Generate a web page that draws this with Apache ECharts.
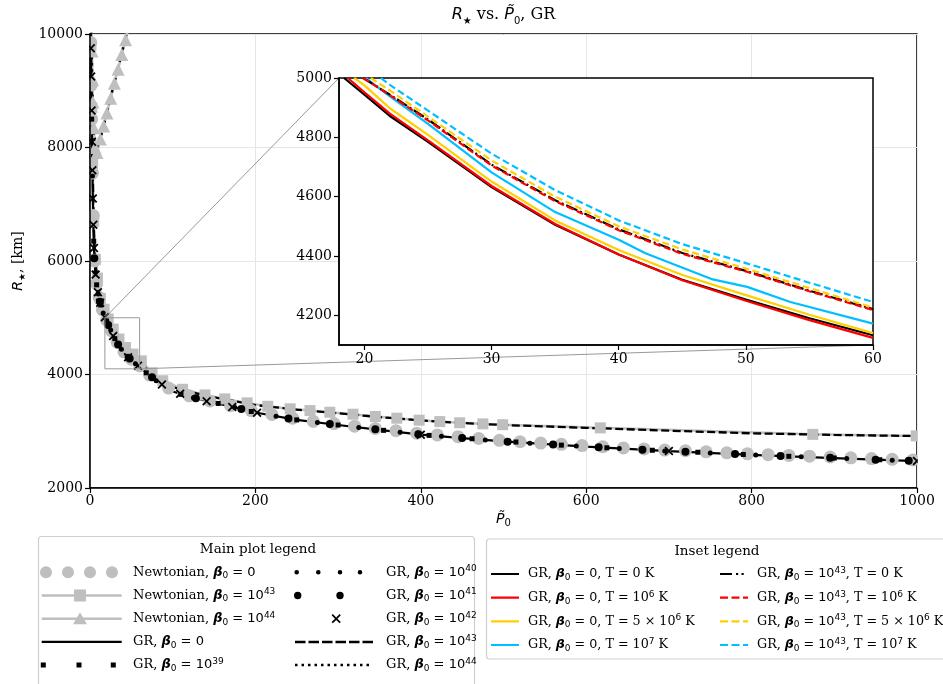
<!DOCTYPE html>
<html><head><meta charset="utf-8">
<script src="https://cdn.jsdelivr.net/npm/echarts@6/dist/echarts.min.js"></script>
<style>html,body{margin:0;padding:0;background:#fff}#c{width:943px;height:684px}</style>
</head><body><div id="c"></div><script>
// ---------------- DATA ----------------
// Main plot axes
const MAIN_X_RANGE = [0, 1000];
const MAIN_Y_RANGE = [2000, 10000];
// Inset axes and tick labels
const INSET_X_RANGE = [18, 60];
const INSET_Y_RANGE = [4100, 5000];
const INSET_X_TICKS = [20, 30, 40, 50, 60];
const INSET_Y_TICKS = [4200, 4400, 4600, 4800, 5000];
// zoom box in main plot (data coords)
const ZOOM_X = [18, 60];
const ZOOM_Y = [4100, 5000];

// GR, beta0 = 0 (solid black)
const GR0_P = [0.5, 0.8, 1.6, 2.5, 3.5, 4.2, 5.2, 6.5, 8, 10, 12, 14, 18.2, 22, 26, 30, 35, 40, 45, 50, 55, 60, 70, 80, 100, 125, 150, 175, 200, 250, 300, 350, 400, 450, 500, 600, 700, 800, 900, 1000];
const GR0_R = [10600, 10000, 9000, 8000, 7000, 6500, 6050, 5800, 5580, 5420, 5280, 5170, 5000, 4872, 4755, 4632, 4505, 4405, 4320, 4253, 4190, 4133, 4010, 3890, 3700, 3590, 3505, 3420, 3330, 3200, 3110, 3025, 2940, 2880, 2820, 2728, 2650, 2585, 2528, 2475];
// GR, beta0 = 1e43 (dashed)
const GR43_P = [0.7, 1.0, 1.9, 2.9, 4, 4.8, 6, 7.5, 9.5, 12, 15, 19.9, 22, 25, 30, 35, 40, 45, 50, 55, 60, 70, 80, 100, 125, 150, 175, 200, 250, 300, 350, 400, 450, 500, 600, 700, 800, 900, 1000];
const GR43_R = [10600, 10000, 9000, 8000, 7000, 6500, 6100, 5850, 5620, 5350, 5200, 5000, 4944, 4860, 4708, 4588, 4490, 4410, 4350, 4283, 4221, 4080, 3938, 3780, 3680, 3600, 3530, 3462, 3380, 3316, 3250, 3190, 3145, 3110, 3060, 3010, 2964, 2935, 2916];
// GR, beta0 = 1e44 (dotted)
const GR44_P = [1.2, 2, 3, 4.5, 6, 8, 12, 16, 20, 24, 28, 32, 36, 40, 44, 48];
const GR44_R = [10600, 9700, 8900, 8200, 7920, 7900, 8130, 8360, 8600, 8830, 9060, 9290, 9520, 9760, 9990, 10220];
// Newtonian, beta0 = 1e44 (grey triangles)
const N44_P = [2, 2.5, 3, 3.5, 4.5, 6, 8.5, 12.5, 16.5, 20.5, 25, 29.5, 34, 38.5, 43, 47];
const N44_R = [10300, 9700, 9200, 8800, 8350, 8000, 7910, 8150, 8380, 8610, 8870, 9130, 9380, 9640, 9900, 10130];
// Newtonian, beta0 = 1e43 (grey squares)
const N43_P = [1.2, 2.2, 3.2, 4.5, 6.5, 9, 12.5, 17, 22, 28, 35, 43, 52, 62, 75, 88, 112, 139, 163, 190, 215, 242, 266, 290, 318, 345, 371, 398, 423, 447, 475, 499, 617, 874, 999];
const N43_R = [9800, 8700, 7700, 6700, 6030, 5700, 5340, 5150, 4980, 4800, 4625, 4475, 4360, 4240, 4030, 3890, 3740, 3640, 3570, 3500, 3440, 3395, 3365, 3335, 3300, 3260, 3230, 3195, 3170, 3150, 3130, 3115, 3060, 2945, 2918];
// Newtonian, beta0 = 0 (grey circles)
const N0_P = [1, 1.5, 2, 3, 4, 5.5, 8, 11, 15, 20, 26, 33, 41, 50, 60, 72, 95, 120, 145, 170, 195, 220, 245, 270, 295, 320, 345, 370, 395, 420, 445, 470, 495, 520, 545, 570, 595, 620, 645, 670, 695, 720, 745, 770, 795, 820, 845, 870, 895, 920, 945, 970, 995];
const N0_R = [9850, 9100, 8500, 7550, 6800, 6000, 5600, 5360, 5140, 4960, 4770, 4565, 4400, 4270, 4150, 3990, 3760, 3625, 3535, 3450, 3365, 3295, 3230, 3175, 3135, 3090, 3050, 3010, 2965, 2935, 2905, 2873, 2840, 2815, 2792, 2770, 2747, 2727, 2707, 2688, 2669, 2656, 2638, 2620, 2603, 2588, 2574, 2560, 2546, 2532, 2518, 2506, 2493];
// GR beta0 = 1e39 (small squares)
const GR39_P = [2, 4.5, 8, 13, 20, 30, 45, 68, 110, 155, 195, 250, 300, 355, 410, 462, 515, 570, 625, 680, 735, 790, 845, 900, 955];
const GR39_R = [8500, 6350, 5580, 5225, 4944, 4632, 4320, 4030, 3650, 3490, 3348, 3200, 3110, 3016, 2927, 2868, 2810, 2755, 2708, 2665, 2630, 2590, 2558, 2528, 2498];
// GR beta0 = 1e40 (small dots)
const GR40_P = [3, 6.5, 10, 16, 25, 38, 55, 80, 125, 175, 225, 275, 325, 375, 425, 478, 532, 588, 640, 695, 750, 805, 860, 915, 970];
const GR40_R = [7500, 5800, 5420, 5085, 4785, 4445, 4190, 3890, 3590, 3420, 3265, 3155, 3068, 2983, 2910, 2846, 2790, 2739, 2697, 2654, 2618, 2582, 2551, 2520, 2491];
// GR beta0 = 1e41 (dots)
const GR41_P = [5.2, 12, 22, 34, 48, 75, 128, 183, 240, 290, 345, 397, 450, 505, 560, 615, 668, 720, 780, 835, 895, 950, 990];
const GR41_R = [6050, 5280, 4872, 4530, 4280, 3950, 3580, 3390, 3226, 3128, 3034, 2945, 2880, 2815, 2765, 2716, 2675, 2637, 2598, 2565, 2531, 2500, 2480];
// GR beta0 = 1e42 (x markers)
const GR42_P = [1.0, 1.4, 1.9, 2.4, 2.9, 3.4, 4.0, 4.8, 6.8, 9.6, 12.3, 18, 28, 46, 58, 87, 109, 141, 172, 202, 400, 700, 1000];
const GR42_R = [9750, 9250, 8650, 8100, 7600, 7100, 6640, 6230, 5760, 5450, 5265, 5010, 4680, 4305, 4155, 3825, 3660, 3530, 3428, 3325, 2940, 2650, 2475];

// Inset curves
const IN_B0_P = [18.4, 20, 22, 25, 30, 35, 40, 45, 50, 55, 60];
const IN_B0_R = [5000, 4944, 4872, 4785, 4632, 4505, 4405, 4320, 4253, 4190, 4133];
const IN_R0_P = [18.7, 20, 22, 25, 30, 35, 40, 45, 50, 55, 60];
const IN_R0_R = [5000, 4952, 4880, 4790, 4636, 4508, 4405, 4318, 4249, 4184, 4124];
const IN_Y0_P = [19.2, 20, 22, 25, 30, 35, 40, 45, 50, 55, 60];
const IN_Y0_R = [5000, 4975, 4898, 4808, 4651, 4520, 4420, 4336, 4268, 4202, 4140];
const IN_C0_P = [20.1, 22, 25, 30, 35, 40, 42.1, 47.4, 50.1, 53.5, 60];
const IN_C0_R = [5000, 4938, 4845, 4682, 4548, 4455, 4409, 4321, 4296, 4245, 4172];
const IN_B43_P = [19.9, 22, 25, 30, 35, 40, 45, 50, 55, 60];
const IN_B43_R = [5000, 4944, 4860, 4708, 4588, 4490, 4410, 4350, 4283, 4221];
const IN_R43_P = [19.9, 22, 25, 30, 35, 40, 45, 50, 55, 60];
const IN_R43_R = [5000, 4942, 4857, 4705, 4585, 4487, 4407, 4348, 4281, 4218];
const IN_Y43_P = [20.5, 22, 25, 30, 35, 40, 45, 50, 55, 60];
const IN_Y43_R = [5000, 4958, 4870, 4722, 4600, 4500, 4422, 4358, 4292, 4226];
const IN_C43_P = [21.3, 22, 25, 30, 35, 40, 45, 50, 55, 60];
const IN_C43_R = [5000, 4977, 4890, 4745, 4622, 4520, 4440, 4376, 4310, 4245];

// ---------------- NAMES / LABELS ----------------
const NAMES = {
  N0: 'Newtonian, β0 = 0', N43: 'Newtonian, β0 = 10^43', N44: 'Newtonian, β0 = 10^44',
  GR0: 'GR, β0 = 0', GR39: 'GR, β0 = 10^39', GR40: 'GR, β0 = 10^40', GR41: 'GR, β0 = 10^41',
  GR42: 'GR, β0 = 10^42', GR43: 'GR, β0 = 10^43', GR44: 'GR, β0 = 10^44',
  IB0: 'GR, β0 = 0, T = 0 K', IR0: 'GR, β0 = 0, T = 10^6 K', IY0: 'GR, β0 = 0, T = 5×10^6 K', IC0: 'GR, β0 = 0, T = 10^7 K',
  IB43: 'GR, β0 = 10^43, T = 0 K', IR43: 'GR, β0 = 10^43, T = 10^6 K', IY43: 'GR, β0 = 10^43, T = 5×10^6 K', IC43: 'GR, β0 = 10^43, T = 10^7 K'
};
function betaPart(exp) { return '{b|β}{sub|0}' + (exp ? '{m| = 10}{sup|' + exp + '}' : '{m| = 0}'); }
function tPart(t) {
  if (t === '0') return '{t|, T = 0 K}';
  if (t === '5e6') return '{t|, T = 5 × 10}{sup|6}{t| K}';
  return '{t|, T = 10}{sup|' + t + '}{t| K}';
}
const RICH_LABEL = {};
RICH_LABEL[NAMES.N0] = '{t|Newtonian, }' + betaPart(null);
RICH_LABEL[NAMES.N43] = '{t|Newtonian, }' + betaPart('43');
RICH_LABEL[NAMES.N44] = '{t|Newtonian, }' + betaPart('44');
RICH_LABEL[NAMES.GR0] = '{t|GR, }' + betaPart(null);
['39','40','41','42','43','44'].forEach(e => { RICH_LABEL[NAMES['GR' + e]] = '{t|GR, }' + betaPart(e); });
RICH_LABEL[NAMES.IB0] = '{t|GR, }' + betaPart(null) + tPart('0');
RICH_LABEL[NAMES.IR0] = '{t|GR, }' + betaPart(null) + tPart('6');
RICH_LABEL[NAMES.IY0] = '{t|GR, }' + betaPart(null) + tPart('5e6');
RICH_LABEL[NAMES.IC0] = '{t|GR, }' + betaPart(null) + tPart('7');
RICH_LABEL[NAMES.IB43] = '{t|GR, }' + betaPart('43') + tPart('0');
RICH_LABEL[NAMES.IR43] = '{t|GR, }' + betaPart('43') + tPart('6');
RICH_LABEL[NAMES.IY43] = '{t|GR, }' + betaPart('43') + tPart('5e6');
RICH_LABEL[NAMES.IC43] = '{t|GR, }' + betaPart('43') + tPart('7');

// ---------------- STYLE ----------------
const GREY = '#bfbfbf';
const RED = '#ff0000', GOLD = '#ffd000', SKY = '#00bfff';
const SERIF = 'DejaVu Serif', SANS = 'DejaVu Sans';
const X_SYMBOL = 'path://M0,1.4L1.4,0L5,3.6L8.6,0L10,1.4L6.4,5L10,8.6L8.6,10L5,6.4L1.4,10L0,8.6L3.6,5Z';

const zip = (a, b) => a.map((v, i) => [v, b[i]]);

// legend icon helpers (decoration only)
function icon(w, h, body) { return 'path://M0,0L0.01,0L0,0.01Z' + body + 'M' + w + ',' + h + 'L' + (w - 0.01) + ',' + h + 'L' + w + ',' + (h - 0.01) + 'Z'; }
function circ(cx, cy, r) { return 'M' + (cx - r) + ',' + cy + 'a' + r + ',' + r + ' 0 1,0 ' + (2 * r) + ',0a' + r + ',' + r + ' 0 1,0 ' + (-2 * r) + ',0Z'; }
function rc(x, y, w, h) { return 'M' + x + ',' + y + 'h' + w + 'v' + h + 'h' + (-w) + 'z'; }
function xmark(cx, cy, hs, t) {
  const p = [[cx-hs, cy-hs+t],[cx-hs+t, cy-hs],[cx, cy-t],[cx+hs-t, cy-hs],[cx+hs, cy-hs+t],[cx+t, cy],[cx+hs, cy+hs-t],[cx+hs-t, cy+hs],[cx, cy+t],[cx-hs+t, cy+hs],[cx-hs, cy+hs-t],[cx-t, cy]];
  return 'M' + p.map(q => q[0] + ',' + q[1]).join('L') + 'Z';
}
let dashBody = '', dotBody = '';
for (let k = 0; k < 6; k++) dashBody += rc(2 + 13.5 * k, 6.75, 10.5, 2.5);
for (let k = 0; k < 12; k++) dotBody += rc(2 + 6.5 * k, 6.75, 2.5, 2.5);
const ICONS = {
  N0: icon(84, 16, circ(6, 8, 6) + circ(28, 8, 6) + circ(50, 8, 6) + circ(72, 8, 6)),
  N43: icon(84, 16, rc(1.7, 6.8, 80, 2.4) + rc(34, 2, 12, 12)),
  N44: icon(84, 16, rc(1.7, 6.8, 80, 2.4) + 'M40,1.5L47,13.5L33,13.5Z'),
  GR0: icon(84, 16, rc(1.7, 6.9, 80, 2.2)),
  GR39: icon(84, 16, rc(0.8, 5.5, 5, 5) + rc(36.5, 5.5, 5, 5) + rc(70.8, 5.5, 5, 5)),
  GR40: icon(84, 16, circ(3.7, 8, 2.3) + circ(25.3, 8, 2.3) + circ(47, 8, 2.3) + circ(67, 8, 2.3)),
  GR41: icon(84, 16, circ(4.7, 8, 3.7) + circ(47, 8, 3.7)),
  GR42: icon(84, 16, xmark(43.2, 8, 4.6, 1.2)),
  GR43: icon(84, 16, dashBody),
  GR44: icon(84, 16, dotBody),
  SOLID: icon(28, 16, rc(0, 6.9, 28, 2.2)),
  DASHDOT: icon(28, 16, rc(0, 6.9, 12, 2.2) + rc(16, 6.9, 2.2, 2.2) + rc(21.5, 6.9, 2.2, 2.2)),
  DASH: icon(28, 16, rc(0, 6.9, 8, 2.2) + rc(11.5, 6.9, 8, 2.2) + rc(23, 6.9, 5, 2.2))
};

function legendRich(fs) {
  return {
    t: {fontFamily: SERIF, fontSize: fs, lineHeight: 16, color: '#000'},
    b: {fontFamily: SANS, fontStyle: 'italic', fontWeight: 'bold', fontSize: fs, lineHeight: 16, color: '#000'},
    m: {fontFamily: SANS, fontSize: fs, lineHeight: 16, color: '#000'},
    sub: {fontFamily: SANS, fontSize: 9, lineHeight: 9, verticalAlign: 'bottom', color: '#000'},
    sup: {fontFamily: SANS, fontSize: 9, lineHeight: 9, verticalAlign: 'top', color: '#000'}
  };
}

function legendComp(items, left, top, w, gap, fs) {
  return {
    data: items.map(it => ({name: it[0], icon: it[1], itemStyle: {color: it[2], borderWidth: 0, opacity: 1}})),
    orient: 'vertical', left: left, top: top, itemWidth: w, itemHeight: 16, itemGap: gap,
    padding: 0, selectedMode: false, itemStyle: {borderWidth: 0},
    formatter: name => RICH_LABEL[name],
    textStyle: {fontFamily: SERIF, fontSize: fs, color: '#000', lineHeight: 16, padding: [0, 0, 0, 4], rich: legendRich(fs)}
  };
}

function mainLine(name, P, R, extra) {
  return Object.assign({name: name, type: 'line', xAxisIndex: 0, yAxisIndex: 0, data: zip(P, R), symbol: 'none', silent: true, z: 2, clip: true}, extra);
}
function mainScatter(name, P, R, symbol, size) {
  return {name: name, type: 'scatter', xAxisIndex: 0, yAxisIndex: 0, data: zip(P, R), symbol: symbol, symbolSize: size, itemStyle: {color: '#000', opacity: 1}, silent: true, z: 2, clip: true};
}
function insetLine(name, P, R, color, type) {
  return {name: name, type: 'line', xAxisIndex: 1, yAxisIndex: 1, data: zip(P, R), symbol: 'none', silent: true, z: 10, clip: true,
    lineStyle: {color: color, width: 2.2, type: type}, itemStyle: {color: color}};
}

const axisLabelStyle = {fontFamily: SERIF, fontSize: 14, color: '#000', formatter: v => String(v)};
const tickStyle = {show: true, length: 5, lineStyle: {color: '#000', width: 1.2}};

const BASE_GRAPHIC = [
  // white margins so markers do not spill outside the main axes frame (like matplotlib clipping)
  {type: 'rect', shape: {x: 0, y: 28, width: 89.3, height: 459.5}, style: {fill: '#fff'}, z: 4, silent: true},
  {type: 'rect', shape: {x: 917.8, y: 28, width: 30, height: 459.5}, style: {fill: '#fff'}, z: 4, silent: true},
  {type: 'rect', shape: {x: 38.5, y: 536.5, width: 436, height: 170, r: 3}, style: {fill: '#fff', stroke: '#cfcfcf', lineWidth: 1.2}, z: 0, silent: true},
  {type: 'rect', shape: {x: 486.5, y: 539, width: 470, height: 120, r: 3}, style: {fill: '#fff', stroke: '#cfcfcf', lineWidth: 1.2}, z: 0, silent: true},
  {type: 'text', style: {text: 'Main plot legend', x: 258, y: 549.5, font: '13.5px "DejaVu Serif"', fill: '#000', textAlign: 'center', textVerticalAlign: 'middle', align: 'center', verticalAlign: 'middle'}, z: 1, silent: true},
  {type: 'text', style: {text: 'Inset legend', x: 717, y: 551, font: '13.5px "DejaVu Serif"', fill: '#000', textAlign: 'center', textVerticalAlign: 'middle', align: 'center', verticalAlign: 'middle'}, z: 1, silent: true}
];

const option = {
  animation: false,
  backgroundColor: '#fff',
  title: {
    text: '{i|R}{s|★}{n| vs. }{i|P̃}{s|0}{n|, GR}',
    left: 503.5, top: 4, textAlign: 'center', padding: 0,
    textStyle: {fontWeight: 'normal', rich: {
      i: {fontFamily: SANS, fontStyle: 'italic', fontWeight: 'normal', fontSize: 16, lineHeight: 22, color: '#000'},
      s: {fontFamily: SANS, fontWeight: 'normal', fontSize: 10, lineHeight: 12, verticalAlign: 'bottom', color: '#000'},
      n: {fontFamily: SERIF, fontWeight: 'normal', fontSize: 16, lineHeight: 22, color: '#000'}
    }}
  },
  grid: [
    {left: 90, top: 34, width: 827, height: 454, show: true, borderColor: '#000', borderWidth: 1.5, backgroundColor: '#fff', outerBoundsMode: 'none', containLabel: false},
    {left: 339, top: 78, width: 534, height: 267, show: true, borderColor: '#000', borderWidth: 1.5, backgroundColor: '#fff', z: 5, outerBoundsMode: 'none', containLabel: false}
  ],
  xAxis: [
    {gridIndex: 0, type: 'value', min: MAIN_X_RANGE[0], max: MAIN_X_RANGE[1], interval: 200,
      axisLine: {show: true, onZero: false, lineStyle: {color: '#000', width: 1.5}}, axisTick: tickStyle,
      axisLabel: Object.assign({margin: 6}, axisLabelStyle),
      splitLine: {show: true, lineStyle: {color: '#e6e6e6', width: 1}},
      name: '{i|P̃}{s|0}', nameLocation: 'middle', nameGap: 22, nameMoveOverlap: false,
      nameTextStyle: {rich: {i: {fontFamily: SANS, fontStyle: 'italic', fontSize: 14, lineHeight: 18, color: '#000'}, s: {fontFamily: SANS, fontSize: 10, lineHeight: 10, verticalAlign: 'bottom', color: '#000'}}}},
    {gridIndex: 1, type: 'value', min: INSET_X_RANGE[0], max: INSET_X_RANGE[1], z: 11,
      axisLine: {show: true, onZero: false, lineStyle: {color: '#000', width: 1.5}},
      axisTick: Object.assign({customValues: INSET_X_TICKS}, tickStyle),
      axisLabel: Object.assign({margin: 7, customValues: INSET_X_TICKS}, axisLabelStyle),
      splitLine: {show: false}}
  ],
  yAxis: [
    {gridIndex: 0, type: 'value', min: MAIN_Y_RANGE[0], max: MAIN_Y_RANGE[1], interval: 2000, z: 6,
      axisLine: {show: true, onZero: false, lineStyle: {color: '#000', width: 1.5}}, axisTick: tickStyle,
      axisLabel: Object.assign({margin: 7}, axisLabelStyle),
      splitLine: {show: false},
      name: '{i|R}{s|★}{n|, [km]}', nameLocation: 'middle', nameGap: 63, nameRotate: 90, nameMoveOverlap: false,
      nameTextStyle: {rich: {
        i: {fontFamily: SANS, fontStyle: 'italic', fontSize: 14, lineHeight: 18, color: '#000'},
        s: {fontFamily: SANS, fontSize: 9, lineHeight: 10, verticalAlign: 'bottom', color: '#000'},
        n: {fontFamily: SERIF, fontSize: 14, lineHeight: 18, color: '#000'}}}},
    {gridIndex: 1, type: 'value', min: INSET_Y_RANGE[0], max: INSET_Y_RANGE[1], z: 11,
      axisLine: {show: true, onZero: false, lineStyle: {color: '#000', width: 1.5}},
      axisTick: Object.assign({customValues: INSET_Y_TICKS}, tickStyle),
      axisLabel: Object.assign({margin: 7, customValues: INSET_Y_TICKS}, axisLabelStyle),
      splitLine: {show: false}},
    // grid lines only for the main plot (kept below the data)
    {gridIndex: 0, type: 'value', min: MAIN_Y_RANGE[0], max: MAIN_Y_RANGE[1], interval: 2000, z: 0,
      axisLine: {show: false}, axisTick: {show: false}, axisLabel: {show: false},
      splitLine: {show: true, lineStyle: {color: '#e6e6e6', width: 1}}}
  ],
  legend: [
    legendComp([[NAMES.N0, ICONS.N0, GREY], [NAMES.N43, ICONS.N43, GREY], [NAMES.N44, ICONS.N44, GREY], [NAMES.GR0, ICONS.GR0, '#000'], [NAMES.GR39, ICONS.GR39, '#000']], 40, 564.3, 84, 7.2, 13),
    legendComp([[NAMES.GR40, ICONS.GR40, '#000'], [NAMES.GR41, ICONS.GR41, '#000'], [NAMES.GR42, ICONS.GR42, '#000'], [NAMES.GR43, ICONS.GR43, '#000'], [NAMES.GR44, ICONS.GR44, '#000']], 293, 564.3, 84, 7.2, 13),
    legendComp([[NAMES.IB0, ICONS.SOLID, '#000'], [NAMES.IR0, ICONS.SOLID, RED], [NAMES.IY0, ICONS.SOLID, GOLD], [NAMES.IC0, ICONS.SOLID, SKY]], 491, 566, 28, 7.67, 12.7),
    legendComp([[NAMES.IB43, ICONS.DASHDOT, '#000'], [NAMES.IR43, ICONS.DASH, RED], [NAMES.IY43, ICONS.DASH, GOLD], [NAMES.IC43, ICONS.DASH, SKY]], 720, 566, 28, 7.67, 12.7)
  ],
  graphic: {elements: BASE_GRAPHIC},
  series: [
    {name: NAMES.N0, type: 'scatter', xAxisIndex: 0, yAxisIndex: 0, data: zip(N0_P, N0_R), symbol: 'circle', symbolSize: 13, itemStyle: {color: GREY, opacity: 1}, silent: true, z: 2},
    mainLine(NAMES.N43, N43_P, N43_R, {symbol: 'rect', symbolSize: 11, showSymbol: true, showAllSymbol: true, lineStyle: {color: GREY, width: 2.5}, itemStyle: {color: GREY, opacity: 1}}),
    mainLine(NAMES.N44, N44_P, N44_R, {symbol: 'triangle', symbolSize: 13, showSymbol: true, showAllSymbol: true, lineStyle: {color: GREY, width: 2.5}, itemStyle: {color: GREY, opacity: 1}}),
    mainLine(NAMES.GR0, GR0_P, GR0_R, {lineStyle: {color: '#000', width: 2.2}, itemStyle: {color: '#000'}}),
    mainScatter(NAMES.GR39, GR39_P, GR39_R, 'rect', 5),
    mainScatter(NAMES.GR40, GR40_P, GR40_R, 'circle', 5),
    mainScatter(NAMES.GR41, GR41_P, GR41_R, 'circle', 8),
    mainScatter(NAMES.GR42, GR42_P, GR42_R, X_SYMBOL, 9),
    mainLine(NAMES.GR43, GR43_P, GR43_R, {lineStyle: {color: '#000', width: 2.3, type: [8, 3.5]}, itemStyle: {color: '#000'}}),
    mainLine(NAMES.GR44, GR44_P, GR44_R, {lineStyle: {color: '#000', width: 2.5, type: [2.5, 3.8]}, itemStyle: {color: '#000'}}),
    {type: 'line', xAxisIndex: 0, yAxisIndex: 0, silent: true, symbol: 'none', z: 3,
      data: [[ZOOM_X[0], ZOOM_Y[0]], [ZOOM_X[1], ZOOM_Y[0]], [ZOOM_X[1], ZOOM_Y[1]], [ZOOM_X[0], ZOOM_Y[1]], [ZOOM_X[0], ZOOM_Y[0]]],
      lineStyle: {color: '#999', width: 1}},
    insetLine(NAMES.IB0, IN_B0_P, IN_B0_R, '#000', 'solid'),
    insetLine(NAMES.IR0, IN_R0_P, IN_R0_R, RED, 'solid'),
    insetLine(NAMES.IY0, IN_Y0_P, IN_Y0_R, GOLD, 'solid'),
    insetLine(NAMES.IC0, IN_C0_P, IN_C0_R, SKY, 'solid'),
    insetLine(NAMES.IB43, IN_B43_P, IN_B43_R, '#000', [12, 3, 2, 3]),
    insetLine(NAMES.IR43, IN_R43_P, IN_R43_R, RED, [7, 3.5]),
    insetLine(NAMES.IY43, IN_Y43_P, IN_Y43_R, GOLD, [7, 3.5]),
    insetLine(NAMES.IC43, IN_C43_P, IN_C43_R, SKY, [7, 3.5])
  ]
};

const chart = echarts.init(document.getElementById('c'), null, {renderer: 'canvas', width: 943, height: 684});
chart.setOption(option);

// connector lines between the zoom box and the inset, positioned through both coordinate systems
const a1 = chart.convertToPixel({xAxisIndex: 0, yAxisIndex: 0}, [ZOOM_X[0], ZOOM_Y[1]]);
const b1 = chart.convertToPixel({xAxisIndex: 1, yAxisIndex: 1}, [ZOOM_X[0], ZOOM_Y[1]]);
const a2 = chart.convertToPixel({xAxisIndex: 0, yAxisIndex: 0}, [ZOOM_X[1], ZOOM_Y[0]]);
const b2 = chart.convertToPixel({xAxisIndex: 1, yAxisIndex: 1}, [ZOOM_X[1], ZOOM_Y[0]]);
const conn = [
  {type: 'line', shape: {x1: a1[0], y1: a1[1], x2: b1[0], y2: b1[1]}, style: {stroke: '#999', lineWidth: 1}, z: 3, silent: true},
  {type: 'line', shape: {x1: a2[0], y1: a2[1], x2: b2[0], y2: b2[1]}, style: {stroke: '#999', lineWidth: 1}, z: 3, silent: true}
];
chart.setOption({graphic: {elements: BASE_GRAPHIC.concat(conn)}});
</script></body></html>
